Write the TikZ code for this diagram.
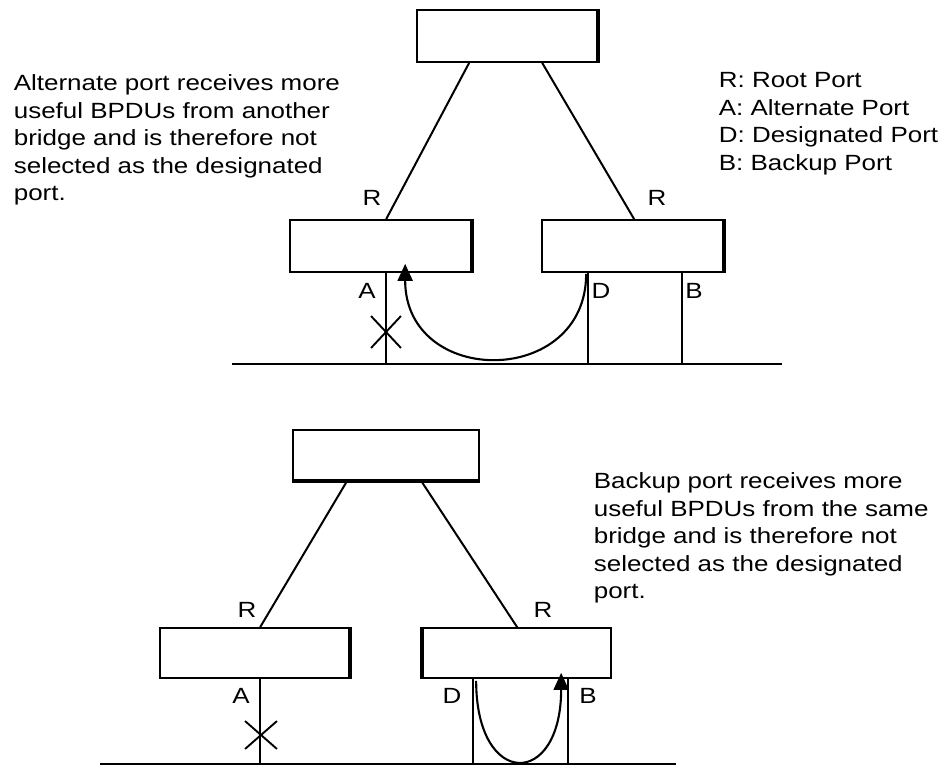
\documentclass[tikz,border=0pt]{standalone}
\usepackage{fontspec}
\setmainfont{Liberation Sans}[FakeStretch=1.18]
\usetikzlibrary{arrows.meta,shapes.misc}

\begin{document}
\begin{tikzpicture}[x=1pt,y=-1pt,line width=1.7pt,
    every node/.style={font=\fontsize{22}{27.5}\selectfont,inner sep=0pt},
    bridge/.style={draw,rectangle,minimum height=52,minimum width=181},
    cross/.style={draw,cross out,line width=1.9pt,minimum width=28,minimum height=30},
    bpdu/.style={-{Triangle[length=17pt,width=15pt]},line width=2.1pt}]
    \useasboundingbox (0,0) rectangle (949,766);

    % upper picture: alternate port
    \node[bridge,minimum width=180] (root1) at (507,36) {};
    \node[bridge] (lb1) at (380.5,246) {};
    \node[bridge] (rb1) at (632.5,246) {};
    \draw[line width=3.5pt] (root1.north east) -- (root1.south east);
    \draw[line width=3.5pt] (lb1.north east) -- (lb1.south east);
    \draw[line width=3.5pt] (rb1.north east) -- (rb1.south east);

    \coordinate (g1l) at (232,364);
    \coordinate (g1r) at (782,364);
    \draw[line width=2.2pt] (g1l) -- (g1r);

    \draw[line width=2pt] ([xshift=53]root1.south west) -- ([xshift=97]lb1.north west);
    \draw[line width=2pt] ([xshift=126]root1.south west) -- ([xshift=93]rb1.north west);

    \coordinate (a1) at ([xshift=97]lb1.south west);
    \coordinate (d1) at ([xshift=47]rb1.south west);
    \coordinate (b1) at ([xshift=141]rb1.south west);
    \draw (a1) -- (a1 |- g1l);
    \draw (d1) -- (d1 |- g1l);
    \draw (b1) -- (b1 |- g1l);

    \node[cross] (x1) at (386,332) {};
    \draw[bpdu] ([xshift=-2,yshift=-1]d1) .. controls +(0,114) and +(0,124) .. ([xshift=19,yshift=9]a1);

    \node (rl1) at (372,198) {R};
    \node (rr1) at (657,198) {R};
    \node (la1) at (367,291) {A};
    \node (ld1) at (601,291) {D};
    \node (lb1t) at (694,291) {B};

    \node[anchor=north west,align=left] (alt) at (13,74) {Alternate port receives more\\useful BPDUs from another\\bridge and is therefore not\\selected as the designated\\port.};
    \node[anchor=north west,align=left] (keys) at (718,72) {R: Root Port\\A: Alternate Port\\D: Designated Port\\B: Backup Port};

    % lower picture: backup port
    \node[bridge,minimum width=186,minimum height=50] (root2) at (386,455) {};
    \node[bridge,minimum width=189,minimum height=50] (lb2) at (254.5,653) {};
    \node[bridge,minimum width=188,minimum height=50] (rb2) at (517,653) {};
    \draw[line width=3.5pt] (root2.south west) -- (root2.south east);
    \draw[line width=3.5pt] (lb2.north east) -- (lb2.south east);
    \draw[line width=3.5pt] (rb2.north west) -- (rb2.south west);

    \coordinate (g2l) at (100,764);
    \coordinate (g2r) at (676,764);
    \draw[line width=2.2pt] (g2l) -- (g2r);

    \draw[line width=2pt] ([xshift=55]root2.south west) -- ([xshift=101]lb2.north west);
    \draw[line width=2pt] ([xshift=129]root2.south west) -- ([xshift=95]rb2.north west);

    \coordinate (a2) at ([xshift=101]lb2.south west);
    \coordinate (d2) at ([xshift=51]rb2.south west);
    \coordinate (b2) at ([xshift=146]rb2.south west);
    \draw (a2) -- (a2 |- g2l);
    \draw (d2) -- (d2 |- g2l);
    \draw (b2) -- (b2 |- g2l);

    \node[cross,minimum width=30,minimum height=26] (x2) at (261,735) {};
    \draw[bpdu] ([xshift=3,yshift=-2]d2) .. controls +(0,108) and +(0,116) .. ([xshift=-7,yshift=6]b2);

    \node (rl2) at (247,610) {R};
    \node (rr2) at (543,610) {R};
    \node (la2) at (241,696) {A};
    \node (ld2) at (452,696) {D};
    \node (lb2t) at (588,696) {B};

    \node[anchor=north west,align=left] (bak) at (593,472) {Backup port receives more\\useful BPDUs from the same\\bridge and is therefore not\\selected as the designated\\port.};
\end{tikzpicture}
\end{document}
